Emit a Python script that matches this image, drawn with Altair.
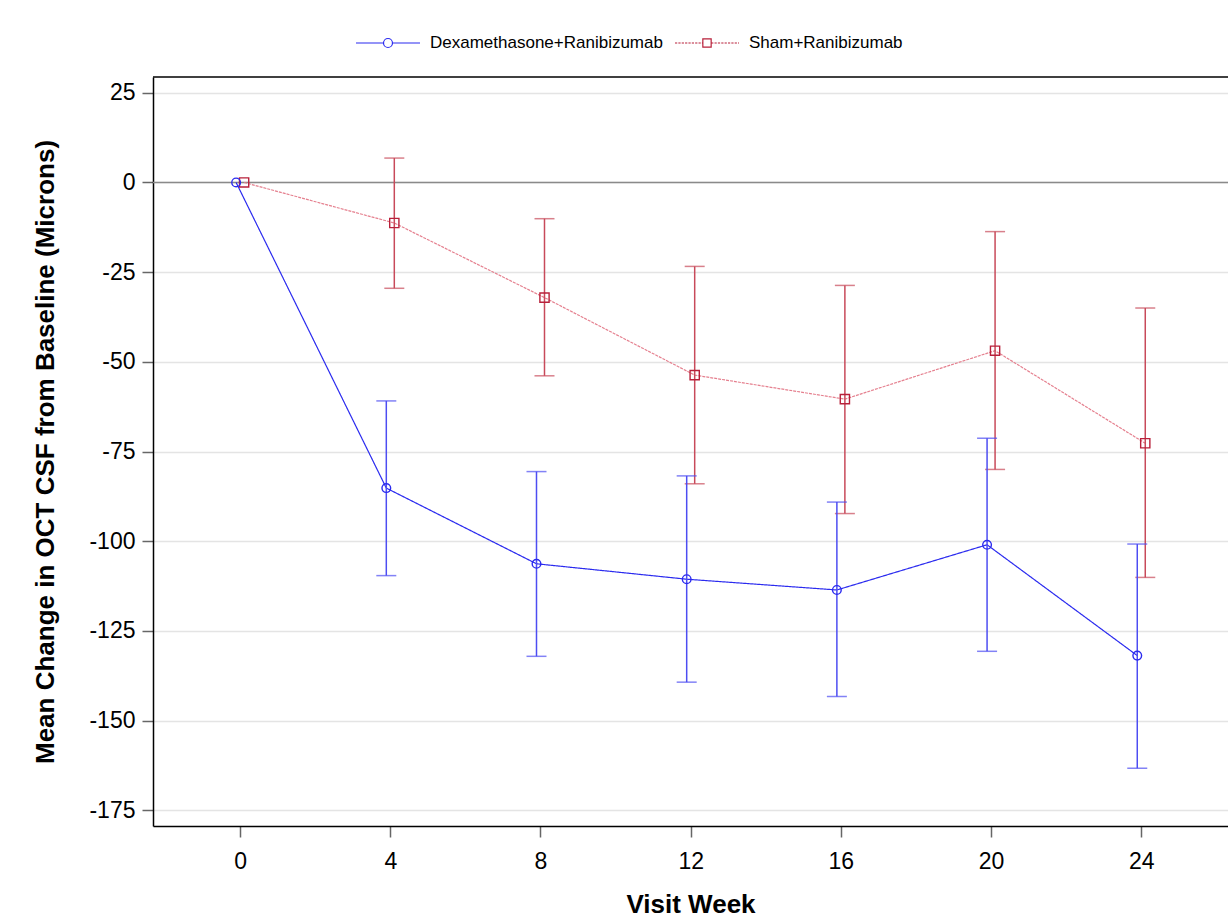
import altair as alt
import pandas as pd

# ---------------- data ----------------
weeks = [0, 4, 8, 12, 16, 20, 24]
err_weeks = [4, 8, 12, 16, 20, 24]
series = ["Dexamethasone+Ranibizumab", "Sham+Ranibizumab"]

dex_mean = [0, -85.2, -106.3, -110.6, -113.6, -101.0, -131.9]
dex_upper = [-60.9, -80.6, -81.8, -89.1, -71.3, -100.8]
dex_lower = [-109.6, -132.1, -139.3, -143.3, -130.7, -163.3]

sham_mean = [0, -11.3, -32.1, -53.7, -60.4, -46.9, -72.7]
sham_upper = [6.8, -10.1, -23.4, -28.7, -13.7, -35.0]
sham_lower = [-29.5, -53.9, -84.0, -92.3, -80.0, -110.1]

y_ticks = [25, 0, -25, -50, -75, -100, -125, -150, -175]
y_domain = [-179.4, 29.4]
x_domain = [-2.32, 26.31]

means_df = pd.DataFrame({
    "week": weeks * 2,
    "value": dex_mean + sham_mean,
    "series": [series[0]] * len(weeks) + [series[1]] * len(weeks),
})
err_df = pd.DataFrame({
    "week": err_weeks * 2,
    "lo": dex_lower + sham_lower,
    "hi": dex_upper + sham_upper,
    "series": [series[0]] * len(err_weeks) + [series[1]] * len(err_weeks),
})
zero_df = pd.DataFrame({"value": [0]})
top_df = pd.DataFrame({"value": [y_domain[1]]})

# ---------------- styles ----------------
FONT = "Liberation Sans"
styles = {
    series[0]: dict(line="#2b2bef", dash=[1, 0], marker="#2b2bef", shape="circle",
                    msize=75, err="#4d4df2", dx=-4),
    series[1]: dict(line="#e5808f", dash=[3, 1], marker="#b8203a", shape="square",
                    msize=85, err="#c84a5a", dx=4),
}

xscale = alt.Scale(domain=x_domain, nice=False, zero=False)
yscale = alt.Scale(domain=y_domain, nice=False, zero=False)

X = alt.X("week:Q", scale=xscale,
          axis=alt.Axis(values=weeks, title="Visit Week", grid=False,
                        domain=True, domainColor="black", domainWidth=1.5,
                        tickSize=11, tickColor="#666666", tickWidth=1.5,
                        labelFontSize=23, labelPadding=13, labelColor="black",
                        titleFontSize=26, titleFontWeight="bold", titlePadding=18,
                        titleColor="black"))
Y = alt.Y("value:Q", scale=yscale,
          axis=alt.Axis(values=y_ticks, title="Mean Change in OCT CSF from Baseline (Microns)",
                        labelExpr="'' + datum.value",
                        grid=True, gridColor="#e4e4e4", gridWidth=1.5,
                        domain=True, domainColor="black", domainWidth=1.5,
                        tickSize=11, tickColor="#666666", tickWidth=1.5,
                        labelFontSize=23, labelPadding=7, labelColor="black",
                        titleFontSize=26, titleFontWeight="bold", titlePadding=30,
                        titleColor="black"))

layers = []
layers.append(
    alt.Chart(zero_df).mark_rule(color="#8a8a8a", strokeWidth=1.5).encode(y=Y)
)
layers.append(
    alt.Chart(top_df).mark_rule(color="black", strokeWidth=1.5).encode(y=Y)
)

for s in [series[1], series[0]]:
    st = styles[s]
    f = alt.datum.series == s
    layers.append(
        alt.Chart(means_df).transform_filter(f).mark_line(
            color=st["line"], strokeWidth=1.2, strokeDash=st["dash"], xOffset=st["dx"]
        ).encode(x=X, y=Y)
    )
    layers.append(
        alt.Chart(err_df).transform_filter(f).mark_rule(
            color=st["err"], strokeWidth=1.5, xOffset=st["dx"]
        ).encode(x=X, y=alt.Y("lo:Q", scale=yscale), y2="hi:Q")
    )
    for fld in ["lo", "hi"]:
        layers.append(
            alt.Chart(err_df).transform_filter(f).mark_tick(
                orient="horizontal", size=20, thickness=1.5, color=st["err"], xOffset=st["dx"]
            ).encode(x=X, y=alt.Y(f"{fld}:Q", scale=yscale))
        )
    layers.append(
        alt.Chart(means_df).transform_filter(f).mark_point(
            shape=st["shape"], size=st["msize"], color=st["marker"], filled=False,
            strokeWidth=1.4, opacity=1, xOffset=st["dx"]
        ).encode(x=X, y=Y)
    )

# legend symbols: a line with the marker in its middle
def dashed_segments(a, b, dash=0.07, gap=0.035):
    out = []
    p = a
    while p < b:
        q = min(p + dash, b)
        out.append(f"M{p:.3f},0L{q:.3f},0")
        p = q + gap
    return "".join(out)

r = 0.14
circle_path = (f"M-1,0L-{r},0M{r},0L1,0"
               f"M-{r},0A{r},{r},0,1,1,{r},0A{r},{r},0,1,1,-{r},0Z")
sq = 0.13
square_path = (dashed_segments(-1, -sq) + dashed_segments(sq, 1) +
               f"M-{sq},-{sq}L{sq},-{sq}L{sq},{sq}L-{sq},{sq}Z")

legend_props = dict(title=None, orient="none", direction="horizontal",
                    legendX=202, legendY=-67, labelFontSize=17, labelFont=FONT,
                    labelColor="black", labelLimit=500, symbolSize=4096, symbolOpacity=1,
                    symbolStrokeWidth=1.2, symbolFillColor="transparent",
                    labelOffset=9, columnPadding=9, padding=0)

layers.append(
    alt.Chart(means_df).mark_point(opacity=0, filled=False).encode(
        x=X, y=Y,
        color=alt.Color("series:N",
                        scale=alt.Scale(domain=series, range=[styles[series[0]]["marker"],
                                                              styles[series[1]]["marker"]]),
                        legend=alt.Legend(**legend_props)),
        shape=alt.Shape("series:N",
                        scale=alt.Scale(domain=series, range=[circle_path, square_path]),
                        legend=alt.Legend(**legend_props)),
    )
)

chart = alt.layer(*layers).properties(
    width=1075, height=749,
    autosize="none",
    padding={"left": 153, "top": 77, "right": 0, "bottom": 94},
    background="white",
).configure_view(
    strokeWidth=0
).configure_axis(
    labelFont=FONT, titleFont=FONT
)

chart.save("out.html", embed_options={"renderer": "svg", "actions": False})
